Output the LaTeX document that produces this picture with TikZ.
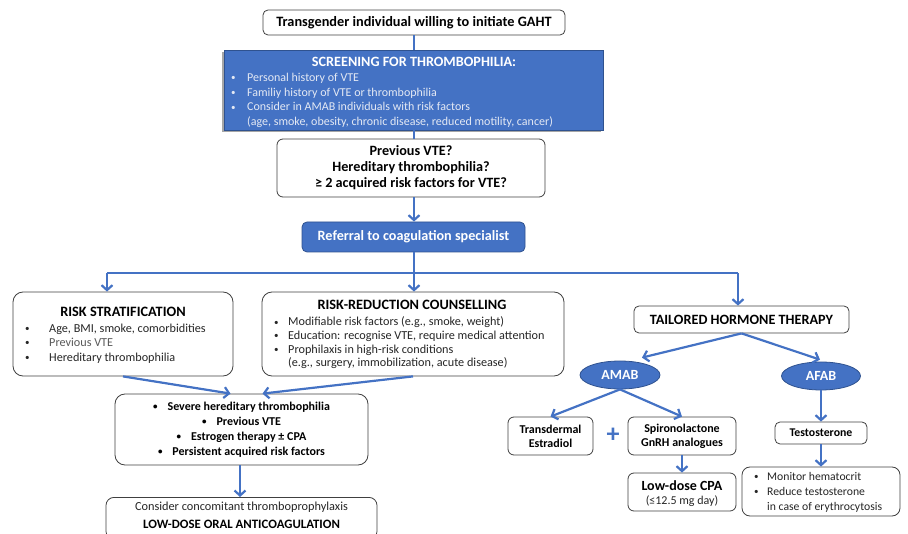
\documentclass[tikz,border=0pt]{standalone}
\usepackage{fontspec}
\setmainfont{Carlito}
\usetikzlibrary{arrows.meta,shapes.geometric,calc}
\definecolor{bl}{HTML}{4472C4}
\definecolor{bld}{HTML}{2F528F}
\definecolor{edge}{HTML}{404040}
\definecolor{txt}{HTML}{262626}
\definecolor{ltxt}{HTML}{E4E9F4}
\newcommand{\fs}[2]{\fontsize{#1}{#2}\selectfont}
\newcommand{\sbul}{\raisebox{0.8pt}{\fontsize{9}{9}\selectfont •}}
\newcommand{\bul}[1]{\makebox[#1][l]{\sbul}}
\begin{document}
\begin{tikzpicture}[x=1pt,y=-1pt,
 box/.style={draw=edge,line width=0.8pt,rounded corners=6pt,fill=white,inner sep=0pt,text=black,align=center},
 bbox/.style={draw=bld,line width=0.8pt,fill=bl,inner sep=0pt,text=white,align=center},
 ell/.style={ellipse,draw=bld,line width=0.8pt,fill=bl,inner sep=0pt,text=white,font=\bfseries\fs{14}{16}},
 conn/.style={draw=bl,line width=2.2pt},
 arr/.style={conn,-{Straight Barb[length=5pt,width=11pt]}},
 lbl/.style={inner sep=0pt,anchor=west,text=txt,align=left},
 txtn/.style={inner sep=0pt},
]
\useasboundingbox (0,0) rectangle (908,534);

% top
\node[box,minimum width=302pt,minimum height=25pt,rounded corners=5pt,font=\bfseries\fs{14.3}{16}] (top) at (414,22.5)
  {Transgender individual willing to initiate GAHT};

% screening
\fill[black!35] (222,52) rectangle (601,132);
\node[bbox,minimum width=379pt,minimum height=80pt] (scr) at (413.5,90) {};
\node[txtn,text=white,font=\bfseries\fs{14.2}{16}] (scrt) at (414,62) {SCREENING FOR THROMBOPHILIA:};
\node[lbl,text=ltxt,font=\fs{12}{14.6}] (scrb) at (231,100.5)
  {\bul{16pt}Personal history of VTE\\
   \bul{16pt}Familiy history of VTE or thrombophilia\\
   \bul{16pt}Consider in AMAB individuals with risk factors\\
   \hspace*{16pt}(age, smoke, obesity, chronic disease, reduced motility, cancer)};

% previous VTE
\node[box,minimum width=268pt,minimum height=58pt,font=\bfseries\fs{14.2}{16}] (prev) at (411,168)
  {Previous VTE?\\Hereditary thrombophilia?\\≥ 2 acquired risk factors for VTE?};

% referral
\node[bbox,minimum width=223pt,minimum height=30pt,rounded corners=5pt,font=\bfseries\fs{14.2}{16}] (ref) at (413.5,237)
  {Referral to coagulation specialist};

% risk stratification
\node[box,minimum width=220pt,minimum height=84pt,rounded corners=10pt] (rs) at (123,334) {};
\node[txtn,font=\bfseries\fs{14.3}{16}] (rst) at (123,312) {RISK STRATIFICATION};
\node[lbl,font=\fs{12.2}{14.5}] (rsb) at (25,343.5)
  {\bul{24pt}Age, BMI, smoke, comorbidities\\
   \bul{24pt}{\color{black!65}Previous VTE}\\
   \bul{24pt}Hereditary thrombophilia};

% risk reduction
\node[box,minimum width=302pt,minimum height=84pt,rounded corners=10pt] (rr) at (413,334) {};
\node[txtn,font=\bfseries\fs{14.3}{16}] (rrt) at (412,305) {RISK-REDUCTION COUNSELLING};
\node[lbl,font=\fs{12.2}{13.7}] (rrb) at (274,343)
  {\bul{14pt}Modifiable risk factors (e.g., smoke, weight)\\
   \bul{14pt}Education: recognise VTE, require medical attention\\
   \bul{14pt}Prophilaxis in high-risk conditions\\
   \hspace*{14pt}(e.g., surgery, immobilization, acute disease)};

% mid box
\node[box,minimum width=253pt,minimum height=71pt,rounded corners=10pt,font=\bfseries\fs{12}{15}] (mid) at (241.5,429.5)
  {\sbul\hspace{10pt}Severe hereditary thrombophilia\\
   \sbul\hspace{10pt}Previous VTE\\
   \sbul\hspace{10pt}Estrogen therapy ± CPA\\
   \sbul\hspace{10pt}Persistent acquired risk factors};

% final box
\node[box,minimum width=271pt,minimum height=42pt,rounded corners=8pt,anchor=north] (fin) at (241.5,497) {};
\node[txtn,font=\fs{12.3}{14},text=txt] (fin1) at (241.5,507) {Consider concomitant thromboprophylaxis};
\node[txtn,font=\bfseries\fs{12.8}{15}] (fin2) at (241.5,524) {LOW-DOSE ORAL ANTICOAGULATION};

% tailored
\node[box,minimum width=215pt,minimum height=27pt,rounded corners=5pt,font=\bfseries\fs{14.2}{16}] (tht) at (741.5,319.5)
  {TAILORED HORMONE THERAPY};
\node[ell,minimum width=80pt,minimum height=28pt] (amab) at (620,375) {AMAB};
\node[ell,minimum width=79pt,minimum height=28pt] (afab) at (821,376) {AFAB};

\node[box,minimum width=85pt,minimum height=38pt,rounded corners=6pt,font=\bfseries\fs{12}{14}] (trans) at (550.5,436)
  {Transdermal\\Estradiol};
\node[txtn,text=bl,font=\bfseries\fs{26}{26}] (plus) at (613,435) {+};
\node[box,minimum width=108pt,minimum height=38pt,rounded corners=6pt,font=\bfseries\fs{12}{14}] (spiro) at (682,436)
  {Spironolactone\\GnRH analogues};
\node[box,minimum width=108pt,minimum height=38pt,rounded corners=6pt] (cpa) at (682,492) {};
\node[txtn,font=\bfseries\fs{14}{16}] (cpa1) at (682,486) {Low-dose CPA};
\node[txtn,font=\fs{12}{14},text=txt] (cpa2) at (682,501.5) {(≤12.5 mg day)};

\node[box,minimum width=92pt,minimum height=22pt,rounded corners=5pt,font=\bfseries\fs{11.8}{13}] (testo) at (821,433)
  {Testosterone};
\node[box,minimum width=158pt,minimum height=49pt,rounded corners=8pt] (mon) at (821,491.5) {};
\node[lbl,font=\fs{11.7}{15}] (monb) at (754,492.5)
  {\bul{13pt}Monitor hematocrit\\
   \bul{13pt}Reduce testosterone\\
   \hspace*{13pt}in case of erythrocytosis};

% connectors
\draw[conn] (top.south) -- (scr.north -| top.south);
\draw[conn] (scr.south -| top.south) -- (prev.north -| top.south);
\draw[arr] (prev.south -| top.south) -- (ref.north -| top.south);
\coordinate (busl) at (107,273);
\coordinate (busr) at (738,273);
\draw[conn] (busl) -- (busr);
\draw[arr] (ref.south -| top.south) -- (rr.north -| top.south);
\draw[arr] (busl) -- (busl |- rs.north);
\draw[arr] (busr) -- (busr |- tht.north);
\draw[arr] (rs.south) -- ($(mid.north)+(-11,0)$);
\draw[arr] (rr.south) -- ($(mid.north)+(21,0)$);
\draw[arr] (mid.south -| 240,0) -- (fin.north -| 240,0);
\draw[arr] (tht.south) -- ($(amab.north)+(22,-3)$);
\draw[arr] (tht.south) -- ($(afab.north)+(-1,-2)$);
\draw[arr] (amab.south) -- (trans.north);
\draw[arr] (amab.south) -- (spiro.north);
\draw[arr] (spiro.south) -- (cpa.north);
\draw[arr] (afab.south) -- (testo.north);
\draw[arr] (testo.south) -- (mon.north);
\end{tikzpicture}
\end{document}
